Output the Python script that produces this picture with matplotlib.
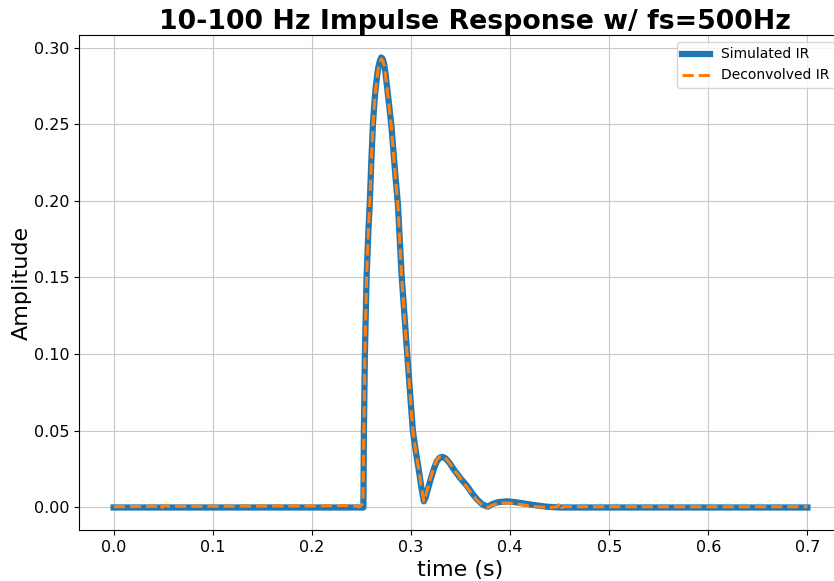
import matplotlib
matplotlib.use("Agg")
import matplotlib.pyplot as plt

# simulated impulse response (time in s, amplitude)
sim_t = [0.000, 0.250, 0.2520, 0.2525, 0.2535, 0.2552, 0.2570, 0.2585, 0.2600,
         0.2616, 0.2630, 0.2643, 0.2657, 0.2670, 0.2685, 0.2700, 0.2715, 0.2730,
         0.2745, 0.2761, 0.2780, 0.2801, 0.2820, 0.2838, 0.2868, 0.2905, 0.2962,
         0.3019, 0.3050, 0.3080, 0.3105, 0.3130, 0.3150, 0.3175, 0.3197, 0.3230,
         0.3260, 0.3290, 0.3320, 0.3350, 0.3390, 0.3430, 0.3500, 0.3567, 0.3620,
         0.3668, 0.3720, 0.3776, 0.3820, 0.3880, 0.3970, 0.4050, 0.4150, 0.4250,
         0.4370, 0.4500, 0.700]
sim_v = [0.0, 0.0, 0.0, 0.050, 0.100, 0.150, 0.180, 0.200, 0.226,
         0.250, 0.263, 0.273, 0.281, 0.287, 0.291, 0.2935, 0.2925, 0.289,
         0.282, 0.273, 0.262, 0.250, 0.235, 0.220, 0.198, 0.152, 0.100,
         0.050, 0.036, 0.024, 0.013, 0.004, 0.007, 0.013, 0.018, 0.025,
         0.030, 0.0325, 0.033, 0.032, 0.029, 0.025, 0.019, 0.0139, 0.009,
         0.0052, 0.002, 0.0005, 0.0022, 0.0035, 0.004, 0.0035, 0.0025, 0.0015,
         0.0005, 0.0, 0.0]

# deconvolved impulse response
dec_t = [0.000, 0.045, 0.047, 0.049, 0.052, 0.054, 0.100, 0.200, 0.230, 0.240,
         0.246, 0.248, 0.250, 0.2515, 0.2525, 0.2535, 0.2552, 0.2570, 0.2585,
         0.2600, 0.2616, 0.2630, 0.2643, 0.2657, 0.2670, 0.2685, 0.2700, 0.2715,
         0.2730, 0.2745, 0.2761, 0.2780, 0.2801, 0.2820, 0.2838, 0.2868, 0.2905,
         0.2962, 0.3019, 0.3050, 0.3080, 0.3105, 0.3130, 0.3150, 0.3175, 0.3197,
         0.3230, 0.3260, 0.3290, 0.3320, 0.3350, 0.3390, 0.3430, 0.3500, 0.3567,
         0.3620, 0.3668, 0.3720, 0.3776, 0.3820, 0.3880, 0.3970, 0.4050, 0.4150,
         0.4250, 0.4400, 0.4480, 0.4500, 0.4520, 0.4550, 0.700]
dec_v = [0.0005, 0.0008, 0.002, 0.0, 0.0015, 0.0008, 0.0008, 0.001, 0.0012, 0.0012,
         0.0008, 0.0004, 0.0015, 0.003, 0.050, 0.100, 0.150, 0.180, 0.200,
         0.225, 0.249, 0.262, 0.272, 0.280, 0.286, 0.290, 0.2925, 0.2915,
         0.288, 0.281, 0.272, 0.261, 0.249, 0.234, 0.219, 0.197, 0.151,
         0.099, 0.050, 0.036, 0.024, 0.013, 0.004, 0.008, 0.014, 0.019,
         0.026, 0.031, 0.033, 0.0335, 0.032, 0.029, 0.025, 0.019, 0.013,
         0.0085, 0.0045, 0.0015, 0.0, 0.0015, 0.0028, 0.003, 0.0025, 0.0015,
         0.0005, 0.0, 0.0005, 0.003, 0.0, 0.0005, 0.0005]

fig = plt.figure(figsize=(8.34, 5.81), dpi=100)
ax = fig.add_axes([0.0947, 0.0878, 0.915, 0.852])

ax.plot(sim_t, sim_v, color='#1f77b4', linewidth=4.5, label='Simulated IR')
ax.plot(dec_t, dec_v, color='#ff7f0e', linewidth=2.2, linestyle='--', label='Deconvolved IR')

ax.set_title('10-100 Hz Impulse Response w/ fs=500Hz', fontsize=19.3,
             fontweight='bold', x=0.519, pad=4)
ax.set_xlabel('time (s)', fontsize=16)
ax.set_ylabel('Amplitude', fontsize=16, labelpad=1)
ax.tick_params(labelsize=11.5)
ax.grid(True, color='#c8c8c8')
ax.legend(loc='upper right', fontsize=10)

fig.savefig('out.png', dpi=100)
